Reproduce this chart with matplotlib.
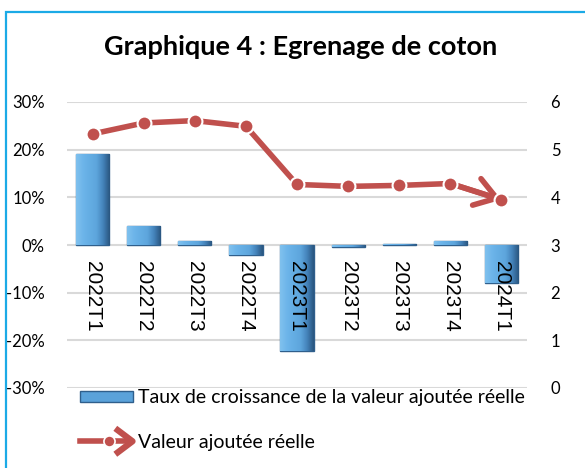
import matplotlib
matplotlib.use("Agg")
import matplotlib.pyplot as plt
import numpy as np
from matplotlib.patches import Rectangle
from matplotlib.lines import Line2D
from matplotlib.legend_handler import HandlerBase
from matplotlib.colors import LinearSegmentedColormap

# données
trimestres = ["2022T1", "2022T2", "2022T3", "2022T4", "2023T1",
              "2023T2", "2023T3", "2023T4", "2024T1"]
taux = [19.0, 4.0, 0.8, -2.1, -22.2, -0.4, 0.2, 0.8, -7.9]   # en %
valeur = [5.33, 5.56, 5.61, 5.49, 4.27, 4.23, 4.25, 4.29, 3.95]

pct_ticks = [-30, -20, -10, 0, 10, 20, 30]
val_ticks = [0, 1, 2, 3, 4, 5, 6]

BLEU = "#5BA3DB"
BLEU_FONCE = "#2F5F8C"
ROUGE = "#C0504D"
GRILLE = "#D9D9D9"
FONT = "Lato"

plt.rcParams['font.family'] = [FONT, 'DejaVu Sans']

fig = plt.figure(figsize=(5.85, 4.68), dpi=100)
ax = fig.add_axes([67/585, 1-388/468, 460/585, 286/468])
ax2 = ax.twinx()

x = list(range(len(trimestres)))

# barres (axe gauche) avec un dégradé pour imiter le relief
barres = ax.bar(x, taux, width=0.65, color=BLEU, edgecolor=BLEU_FONCE, linewidth=1.0, zorder=3)
relief = LinearSegmentedColormap.from_list(
    "relief", ["#80C1EE", "#6DB5EA", "#64ADE3", "#5EA6DD", "#4584BC", "#2A5680"])
grad = np.linspace(0, 1, 64).reshape(1, -1)
for b in barres:
    bx, by = b.get_x(), b.get_y()
    bw, bh = b.get_width(), b.get_height()
    im = ax.imshow(grad, cmap=relief, aspect='auto', zorder=3.5,
                   extent=[bx, bx + bw, by, by + bh], interpolation='bicubic')
    im.set_clip_path(b)
ax.set_ylim(-30, 30)
ax.set_yticks(pct_ticks)
ax.set_yticklabels([f"{t}%" for t in pct_ticks], fontsize=12)
ax.set_xlim(-0.5, len(trimestres)-0.5)
ax.set_xticks([])
ax.grid(axis='y', color=GRILLE, lw=1.5, zorder=0)
ax.tick_params(axis='y', length=0, pad=16)
for s in ax.spines.values():
    s.set_visible(False)

# étiquettes des trimestres, verticales sous le zéro
for xi, lab in zip(x, trimestres):
    ax.text(xi, -3.3, lab, rotation=-90, ha='center', va='top',
            fontsize=15, family='Liberation Sans', zorder=5)

# courbe (axe droit)
ax2.plot(x, valeur, color=ROUGE, lw=4, marker='o', ms=10,
         markeredgecolor='white', markeredgewidth=1.5, zorder=4)
ax2.annotate('', xy=(x[-1], valeur[-1]), xytext=(x[-2], valeur[-2]),
             arrowprops=dict(arrowstyle='->,head_length=0.75,head_width=0.5',
                             color=ROUGE, lw=4, mutation_scale=20,
                             shrinkA=0, shrinkB=0))
ax2.set_ylim(0, 6)
ax2.set_yticks(val_ticks)
ax2.set_yticklabels([str(v) for v in val_ticks], fontsize=12)
ax2.tick_params(axis='y', length=0, pad=17)
for s in ax2.spines.values():
    s.set_visible(False)

fig.suptitle("Graphique 4 : Egrenage de coton", x=301/585, y=1-47/468,
             va='center', fontsize=19.5, fontweight='bold')


class FlecheHandler(HandlerBase):
    def create_artists(self, legend, orig, xdescent, ydescent, width, height, fontsize, trans):
        y = height/2 - ydescent
        x0 = -xdescent
        x1 = width - xdescent
        ligne = Line2D([x0, x1 - 2], [y, y], color=ROUGE, lw=4, transform=trans)
        point = Line2D([x0 + 0.55*width], [y], marker='o', ms=8, color=ROUGE,
                       markeredgecolor='white', markeredgewidth=1.2, transform=trans)
        chevron = Line2D([x1 - 0.28*width, x1, x1 - 0.28*width],
                         [y + 1.0*height, y, y - 1.0*height],
                         color=ROUGE, lw=4.5, transform=trans)
        return [ligne, point, chevron]


h1 = Rectangle((0, 0), 1, 1, facecolor="#5AA2DA", edgecolor=BLEU_FONCE, lw=1.0)
h2 = Line2D([], [], color=ROUGE)
fig.legend([h1, h2], ["Taux de croissance de la valeur ajoutée réelle", "Valeur ajoutée réelle"],
           handler_map={h2: FlecheHandler()},
           loc='upper left', bbox_to_anchor=(80/585, 1-389/468), frameon=False,
           fontsize=14, handlelength=2.7, handleheight=0.5, handletextpad=0.3,
           labelspacing=1.45, borderpad=0, borderaxespad=0)

# cadre bleu clair
fig.patches.append(Rectangle((6/585, -0.2), 1.2, 1.2 - 12/468,
                             transform=fig.transFigure, fill=False,
                             edgecolor="#1BAAE6", lw=1.6, zorder=0))

fig.savefig("out.png", dpi=100)
